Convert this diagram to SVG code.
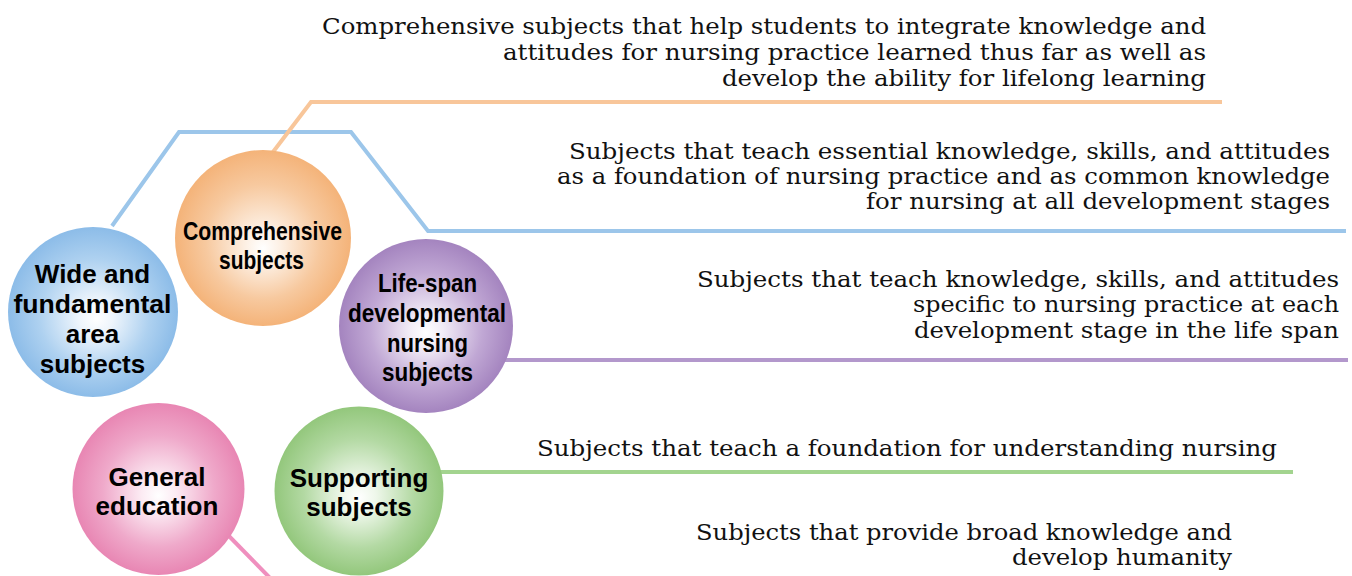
<svg xmlns="http://www.w3.org/2000/svg" width="1352" height="576" viewBox="0 0 1352 576">
<style>
.conn{fill:none;stroke-width:4;stroke-linejoin:miter}
.lbl{font-family:"Liberation Sans",Arial,sans-serif;font-weight:bold;font-size:26px;fill:#000;text-anchor:middle}
.lbl2{font-family:"Liberation Sans",Arial,sans-serif;font-weight:bold;font-size:25px;fill:#000;text-anchor:middle}
.desc{font-family:"DejaVu Serif",serif;font-size:23px;fill:#111;text-anchor:end}
</style>
<defs>
<radialGradient id="gBlue" cx="50%" cy="50%" r="50%" fx="52%" fy="54%"><stop offset="0" stop-color="#ffffff"/><stop offset="0.2" stop-color="#eef5fc"/><stop offset="0.65" stop-color="#aed1f0"/><stop offset="1" stop-color="#8cbce8"/></radialGradient>
<radialGradient id="gOrange" cx="50%" cy="50%" r="50%" fx="50%" fy="56%"><stop offset="0" stop-color="#ffffff"/><stop offset="0.2" stop-color="#fdf0e4"/><stop offset="0.65" stop-color="#f7c99f"/><stop offset="1" stop-color="#f4b379"/></radialGradient>
<radialGradient id="gPurple" cx="50%" cy="50%" r="50%" fx="50%" fy="54%"><stop offset="0" stop-color="#ffffff"/><stop offset="0.2" stop-color="#f1ebf6"/><stop offset="0.65" stop-color="#c0a7d4"/><stop offset="1" stop-color="#a484bf"/></radialGradient>
<radialGradient id="gPink" cx="50%" cy="50%" r="50%" fx="50%" fy="54%"><stop offset="0" stop-color="#ffffff"/><stop offset="0.2" stop-color="#fcebf3"/><stop offset="0.65" stop-color="#efa9ca"/><stop offset="1" stop-color="#e886b3"/></radialGradient>
<radialGradient id="gGreen" cx="50%" cy="50%" r="50%" fx="50%" fy="54%"><stop offset="0" stop-color="#ffffff"/><stop offset="0.2" stop-color="#eef7ea"/><stop offset="0.65" stop-color="#b3d9a3"/><stop offset="1" stop-color="#93c77c"/></radialGradient>
</defs>
<rect width="1352" height="576" fill="#ffffff"/>
<g id="connectors">
<path class="conn" stroke="#9cc6ea" d="M112,226 L179,132 L351,132 L428,231 L1346,231"/>
<path class="conn" stroke="#f8c69a" d="M273,152 L311,102 L1222,102"/>
<path class="conn" stroke="#b398cc" d="M500,360 L1348,360"/>
<path class="conn" stroke="#a3d48f" d="M435,472 L1293,472"/>
<path class="conn" stroke="#ef8fbe" d="M225,532 L272,580"/>
</g>
<g id="wide">
<circle cx="93" cy="312" r="85" fill="url(#gBlue)"/>
<text class="lbl" x="92.5" y="283">Wide and</text>
<text class="lbl" x="92.5" y="313" textLength="158" lengthAdjust="spacingAndGlyphs">fundamental</text>
<text class="lbl" x="92.5" y="343">area</text>
<text class="lbl" x="92.5" y="373">subjects</text>
</g>
<g id="comprehensive">
<circle cx="263" cy="238" r="88" fill="url(#gOrange)"/>
<text class="lbl2" x="262.5" y="240" textLength="159" lengthAdjust="spacingAndGlyphs">Comprehensive</text>
<text class="lbl2" x="261.5" y="269" textLength="85" lengthAdjust="spacingAndGlyphs">subjects</text>
</g>
<g id="lifespan">
<circle cx="426" cy="326" r="87" fill="url(#gPurple)"/>
<text class="lbl2" x="427.5" y="292" textLength="99" lengthAdjust="spacingAndGlyphs">Life-span</text>
<text class="lbl2" x="427" y="322" textLength="158" lengthAdjust="spacingAndGlyphs">developmental</text>
<text class="lbl2" x="427.5" y="352" textLength="81" lengthAdjust="spacingAndGlyphs">nursing</text>
<text class="lbl2" x="427.5" y="381" textLength="91" lengthAdjust="spacingAndGlyphs">subjects</text>
</g>
<g id="general">
<circle cx="158.5" cy="489" r="86" fill="url(#gPink)"/>
<text class="lbl" x="157" y="486">General</text>
<text class="lbl" x="157" y="515">education</text>
</g>
<g id="supporting">
<circle cx="359" cy="491" r="84.5" fill="url(#gGreen)"/>
<text class="lbl" x="359" y="487">Supporting</text>
<text class="lbl" x="359" y="516">subjects</text>
</g>
<g id="desc-comprehensive">
<text class="desc" x="1206" y="34" textLength="884" lengthAdjust="spacingAndGlyphs">Comprehensive subjects that help students to integrate knowledge and</text>
<text class="desc" x="1206" y="60" textLength="703" lengthAdjust="spacingAndGlyphs">attitudes for nursing practice learned thus far as well as</text>
<text class="desc" x="1206" y="86" textLength="484" lengthAdjust="spacingAndGlyphs">develop the ability for lifelong learning</text>
</g>
<g id="desc-wide">
<text class="desc" x="1330" y="159" textLength="761" lengthAdjust="spacingAndGlyphs">Subjects that teach essential knowledge, skills, and attitudes</text>
<text class="desc" x="1330" y="184" textLength="773" lengthAdjust="spacingAndGlyphs">as a foundation of nursing practice and as common knowledge</text>
<text class="desc" x="1330" y="209" textLength="464" lengthAdjust="spacingAndGlyphs">for nursing at all development stages</text>
</g>
<g id="desc-lifespan">
<text class="desc" x="1339" y="287" textLength="642" lengthAdjust="spacingAndGlyphs">Subjects that teach knowledge, skills, and attitudes</text>
<text class="desc" x="1339" y="312" textLength="426" lengthAdjust="spacingAndGlyphs">specific to nursing practice at each</text>
<text class="desc" x="1339" y="338" textLength="425" lengthAdjust="spacingAndGlyphs">development stage in the life span</text>
</g>
<g id="desc-supporting">
<text class="desc" x="1277" y="456" textLength="740" lengthAdjust="spacingAndGlyphs">Subjects that teach a foundation for understanding nursing</text>
</g>
<g id="desc-general">
<text class="desc" x="1232" y="540" textLength="536" lengthAdjust="spacingAndGlyphs">Subjects that provide broad knowledge and</text>
<text class="desc" x="1232" y="565" textLength="220" lengthAdjust="spacingAndGlyphs">develop humanity</text>
</g>
</svg>
